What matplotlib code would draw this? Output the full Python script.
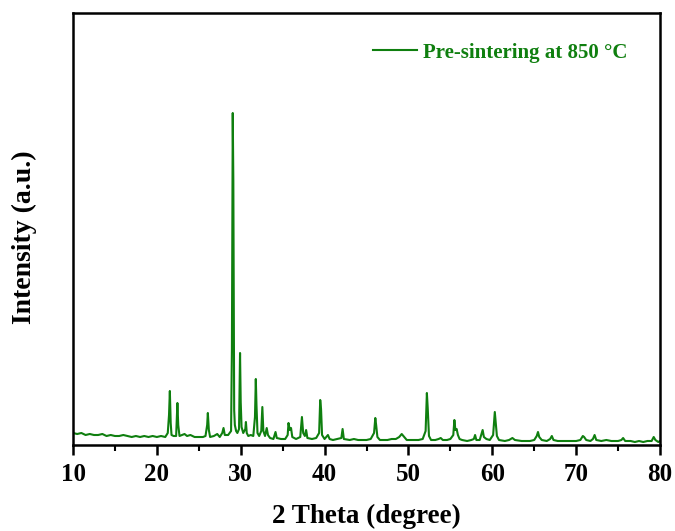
import matplotlib
matplotlib.use("Agg")
import matplotlib.pyplot as plt
import matplotlib.ticker

matplotlib.rc('font', **{'family': 'Liberation Serif', 'weight': 'bold', 'size': 18})

# 2 theta (degree) and intensity (a.u.)
two_theta = [
    10.0, 10.5, 11.0, 11.5, 12.0, 12.5, 13.0, 13.5, 14.0, 14.5, 15.0, 15.5,
    16.0, 16.5, 17.0, 17.5, 18.0, 18.5, 19.0, 19.5, 20.0, 20.5, 21.0, 21.3,
    21.45, 21.55, 21.65, 21.75, 22.0, 22.3, 22.45, 22.55, 22.7, 23.0, 23.3, 23.6,
    24.0, 24.5, 25.0, 25.5, 25.8, 26.0, 26.08, 26.2, 26.35, 26.8, 27.2, 27.5,
    27.8, 27.95, 28.1, 28.5, 28.85, 28.95, 29.05, 29.12, 29.22, 29.3, 29.45, 29.6,
    29.8, 29.92, 30.0, 30.1, 30.3, 30.55, 30.62, 30.72, 30.9, 31.2, 31.5, 31.7,
    31.8, 31.88, 32.0, 32.2, 32.45, 32.58, 32.7, 32.9, 33.1, 33.25, 33.5, 33.9,
    34.15, 34.3, 34.8, 35.3, 35.6, 35.7, 35.85, 36.0, 36.15, 36.6, 37.1, 37.3,
    37.45, 37.65, 37.8, 37.95, 38.5, 39.0, 39.35, 39.48, 39.58, 39.7, 40.0, 40.4,
    40.6, 41.0, 41.5, 42.0, 42.15, 42.3, 43.0, 43.5, 44.0, 44.5, 45.0, 45.5,
    45.9, 46.05, 46.15, 46.3, 46.6, 47.0, 47.5, 48.0, 48.5, 48.9, 49.2, 49.5,
    49.8, 50.2, 50.7, 51.2, 51.7, 52.05, 52.2, 52.3, 52.45, 52.7, 53.2, 53.6,
    53.85, 54.1, 54.6, 55.0, 55.35, 55.48, 55.6, 55.75, 55.9, 56.1, 56.4, 57.0,
    57.5, 57.8, 57.95, 58.1, 58.5, 58.85, 59.0, 59.3, 59.7, 60.1, 60.3, 60.4,
    60.55, 60.8, 61.5, 62.0, 62.4, 62.7, 63.5, 64.0, 64.5, 65.0, 65.3, 65.45,
    65.6, 65.9, 66.5, 66.9, 67.1, 67.3, 67.8, 68.5, 69.0, 69.5, 70.0, 70.5,
    70.8, 70.95, 71.2, 71.7, 72.0, 72.2, 72.4, 73.0, 73.6, 74.2, 75.0, 75.4,
    75.6, 75.85, 76.5, 77.0, 77.5, 78.0, 78.5, 79.0, 79.25, 79.45, 79.8, 80.0,
]
intensity = [
    12, 11, 12, 10, 11, 10, 10, 11, 9, 10, 9, 9,
    10, 9, 8, 9, 8, 9, 8, 9, 8, 9, 8, 12,
    30, 54, 22, 10, 9, 9, 42, 20, 9, 10, 11, 9,
    10, 8, 8, 8, 9, 20, 32, 15, 8, 9, 11, 8,
    12, 17, 10, 10, 14, 96, 332, 264, 35, 20, 14, 12,
    16, 92, 43, 18, 12, 16, 23, 12, 9, 10, 9, 28,
    66, 40, 12, 9, 14, 38, 14, 9, 17, 10, 7, 6,
    13, 7, 6, 6, 10, 22, 15, 17, 8, 6, 8, 28,
    12, 9, 15, 7, 6, 7, 12, 45, 36, 10, 6, 10,
    6, 5, 6, 7, 16, 6, 5, 6, 5, 5, 5, 6,
    12, 27, 20, 8, 5, 5, 5, 6, 6, 8, 11, 8,
    5, 5, 5, 5, 6, 14, 52, 37, 9, 5, 5, 6,
    7, 5, 5, 6, 10, 25, 15, 16, 10, 6, 5, 4,
    5, 6, 10, 5, 5, 15, 8, 6, 5, 10, 33, 23,
    9, 5, 4, 5, 7, 5, 4, 4, 4, 5, 9, 13,
    8, 5, 4, 6, 9, 5, 4, 4, 4, 4, 4, 5,
    9, 8, 5, 4, 6, 10, 5, 4, 5, 4, 4, 5,
    7, 4, 4, 3, 4, 3, 4, 4, 8, 5, 3, 4,
]

label = "Pre-sintering at 850 \u00b0C"
line_color = "#0f7f0f"

fig = plt.figure(figsize=(6.75, 5.31), dpi=100)
ax = fig.add_axes([73 / 675, 1 - 445 / 531, 587 / 675, 432 / 531])

ax.plot(two_theta, intensity, color=line_color, lw=1.5, label=label)

ax.set_xlim(10, 80)
ax.set_ylim(0, 432)
ax.xaxis.set_major_locator(matplotlib.ticker.MultipleLocator(10))
ax.xaxis.set_minor_locator(matplotlib.ticker.MultipleLocator(5))
ax.tick_params(axis='x', which='major', direction='out', length=7, width=1.8, pad=6)
ax.tick_params(axis='x', which='minor', direction='out', length=4, width=1.5)
ax.set_yticks([])
for s in ax.spines.values():
    s.set_linewidth(1.8)

ax.set_xlabel("2 Theta (degree)", fontsize=19.5, fontweight='bold')
ax.set_ylabel("Intensity (a.u.)", fontsize=20, fontweight='bold')
ax.xaxis.set_label_coords(0.5, -0.137)
ax.yaxis.set_label_coords(-0.061, 0.48)

leg = ax.legend(loc='center right', frameon=False, fontsize=15, handlelength=2.1,
                handletextpad=0.3, borderpad=0, borderaxespad=0,
                bbox_to_anchor=(0.944, 0.908))
for t in leg.get_texts():
    t.set_color(line_color)

fig.savefig("out.png", dpi=100)
